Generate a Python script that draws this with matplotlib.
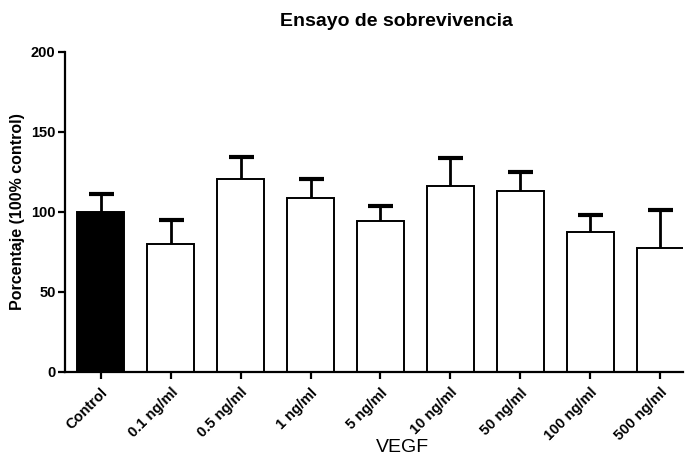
import numpy as np
import matplotlib.pyplot as plt

plt.rcParams['font.family'] = ['Liberation Sans', 'DejaVu Sans']

# datos
grupos = ['Control', '0.1 ng/ml', '0.5 ng/ml', '1 ng/ml', '5 ng/ml',
          '10 ng/ml', '50 ng/ml', '100 ng/ml', '500 ng/ml']
medias = [100.1, 79.9, 120.6, 108.5, 94.3, 116.4, 113.3, 87.2, 77.2]
errores = [11.1, 14.8, 13.9, 12.1, 9.6, 17.3, 11.5, 11.0, 23.8]
colores = ['black'] + ['white'] * 8

fig = plt.figure(figsize=(6.86, 4.58), dpi=100)
ax = fig.add_axes([0.0952, 0.1884, 0.9008, 0.6981])

x = np.arange(len(grupos))
ax.bar(x, medias, width=0.67, color=colores, edgecolor='black', linewidth=1.4, zorder=2)
eb = ax.errorbar(x, medias, yerr=[np.zeros(len(errores)), errores], fmt='none',
                 ecolor='black', elinewidth=2, capsize=9, capthick=3, zorder=1)
# solo la barra superior
eb[1][0].remove()

ax.set_xlim(-0.506, 8.33)
ax.set_ylim(0, 200)
ax.set_yticks([0, 50, 100, 150, 200])
ax.set_xticks(x)
ax.set_xticklabels(grupos, rotation=45, ha='right', rotation_mode='anchor',
                   fontweight='bold', fontsize=10.5)
for lab in ax.get_yticklabels():
    lab.set_fontweight('bold')
    lab.set_fontsize(10.5)

for s in ['top', 'right']:
    ax.spines[s].set_visible(False)
for s in ['left', 'bottom']:
    ax.spines[s].set_linewidth(1.6)
ax.tick_params(axis='both', direction='out', length=5, width=1.6, pad=2)
ax.tick_params(axis='x', pad=5)

ax.set_ylabel('Porcentaje (100% control)', fontweight='bold', fontsize=11.5, labelpad=4)
fig.text(396 / 686, 1 - 22 / 458, 'Ensayo de sobrevivencia', ha='center', va='center',
         fontweight='bold', fontsize=14)
fig.text(402 / 686, 1 - 447 / 458, 'VEGF', ha='center', va='center', fontsize=14)

fig.savefig('out.png', dpi=100)
